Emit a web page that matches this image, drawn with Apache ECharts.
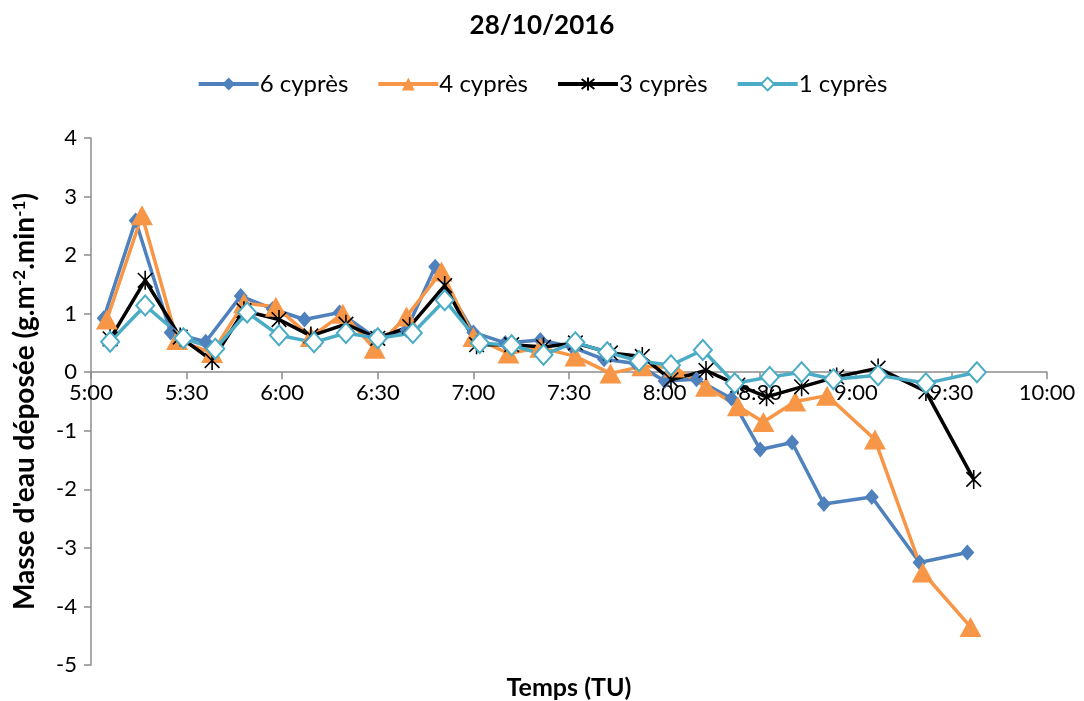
<!DOCTYPE html>
<html><head><meta charset="utf-8">
<script src="https://cdn.jsdelivr.net/npm/echarts@6/dist/echarts.min.js"></script>
<style>html,body{margin:0;padding:0;background:#fff}#c{width:1084px;height:701px}</style>
</head><body><div id="c"></div>
<script>
// times in minutes since midnight
const seriesNames = ['6 cyprès', '4 cyprès', '3 cyprès', '1 cyprès'];
const t6 = [304, 314, 325, 336, 347, 357, 367, 378, 389, 399, 408, 420, 430, 441, 451, 461, 471, 480, 490, 501, 510, 520, 530, 545, 560, 575];
const v6 = [0.92, 2.59, 0.68, 0.52, 1.30, 1.08, 0.90, 1.02, 0.60, 0.72, 1.80, 0.68, 0.50, 0.55, 0.43, 0.22, 0.15, -0.15, -0.12, -0.45, -1.32, -1.20, -2.25, -2.13, -3.25, -3.08];
const t4 = [305, 316, 327, 338, 348, 358, 369, 379, 389, 399, 410, 420, 431, 441, 452, 463, 473, 483, 493, 503, 511, 521, 531, 546, 561, 576];
const v4 = [0.90, 2.68, 0.55, 0.33, 1.18, 1.12, 0.60, 1.00, 0.40, 0.95, 1.72, 0.60, 0.32, 0.42, 0.27, -0.02, 0.10, 0.08, -0.25, -0.58, -0.85, -0.50, -0.40, -1.15, -3.42, -4.35];
const t3 = [306, 317, 328, 338, 348, 359, 369, 380, 390, 400, 411, 421, 432, 442, 452, 463, 473, 482, 493, 503, 512, 523, 534, 547, 562, 577];
const v3 = [0.57, 1.57, 0.60, 0.20, 1.05, 0.90, 0.62, 0.82, 0.58, 0.78, 1.48, 0.47, 0.47, 0.43, 0.50, 0.33, 0.27, -0.13, 0.03, -0.22, -0.42, -0.25, -0.08, 0.07, -0.33, -1.83];
const t1 = [306, 317, 329, 339, 349, 359, 370, 380, 390, 401, 411, 422, 432, 442, 452, 462, 472, 482, 492, 502, 513, 523, 533, 547, 562, 578];
const v1 = [0.52, 1.14, 0.58, 0.40, 1.02, 0.63, 0.51, 0.67, 0.58, 0.67, 1.23, 0.50, 0.46, 0.30, 0.51, 0.34, 0.19, 0.12, 0.38, -0.19, -0.08, 0.00, -0.12, -0.05, -0.19, 0.00];
const xMin = 300, xMax = 600, xStep = 30;
const yMin = -5, yMax = 4, yStep = 1;

const FONT = 'Lato';
const GRID = { left: 91, top: 138, width: 956, height: 527 };
const pair = (t, v) => t.map((x, i) => [x, v[i]]);
const fmtTime = m => Math.floor(m / 60) + ':' + String(m % 60).padStart(2, '0');
const star = 'path://M0,0L10,10M10,0L0,10M5,-1.5L5,11.5';
// place the x axis line on y = 0 (offset from the grid bottom)
const zeroOffset = -GRID.height * (0 - yMin) / (yMax - yMin);

const chart = echarts.init(document.getElementById('c'));
chart.setOption({
  animation: false,
  backgroundColor: '#fff',
  textStyle: { fontFamily: FONT },
  title: {
    text: '28/10/2016', left: 'center', top: 8,
    textStyle: { fontFamily: FONT, fontSize: 26, fontWeight: 'bold', color: '#000' }
  },
  legend: {
    top: 67, left: 'center', itemWidth: 60, itemHeight: 16, itemGap: 28,
    lineStyle: { width: 4 },
    textStyle: { fontFamily: FONT, fontSize: 24, color: '#000', padding: [0, 0, 0, -4] },
    data: seriesNames
  },
  grid: Object.assign({ containLabel: false }, GRID),
  xAxis: {
    type: 'value', min: xMin, max: xMax, interval: xStep, position: 'bottom', offset: zeroOffset, z: 0,
    axisLine: { onZero: false, lineStyle: { color: '#8c8c8c', width: 1.5 } },
    axisTick: { show: true, inside: false, length: 7, lineStyle: { color: '#8c8c8c', width: 1.5 } },
    axisLabel: { formatter: v => fmtTime(v), fontFamily: FONT, fontSize: 22, color: '#000', margin: 10 },
    splitLine: { show: false }
  },
  yAxis: {
    type: 'value', min: yMin, max: yMax, interval: yStep,
    axisLine: { show: true, onZero: false, lineStyle: { color: '#8c8c8c', width: 1.5 } },
    axisTick: { show: true, inside: false, length: 7, lineStyle: { color: '#8c8c8c', width: 1.5 } },
    axisLabel: { fontFamily: FONT, fontSize: 22, color: '#000', margin: 14 },
    splitLine: { show: false },
    name: "{a|Masse d'eau déposée (g.m}{s|-2}{a|.min}{s|-1}{a|)}",
    nameLocation: 'middle', nameGap: 52, nameRotate: 90,
    nameTextStyle: {
      rich: {
        a: { fontFamily: FONT, fontSize: 28, fontWeight: 'bold', color: '#000' },
        s: { fontFamily: FONT, fontSize: 17, fontWeight: 'bold', color: '#000', verticalAlign: 'top', padding: [0, 0, 11, 0] }
      }
    }
  },
  graphic: [{
    type: 'text', x: GRID.left + GRID.width / 2, y: 688,
    style: { text: 'Temps (TU)', font: 'bold 25px ' + FONT, fill: '#000', align: 'center', verticalAlign: 'middle' }
  }],
  series: [
    { name: seriesNames[0], type: 'line', data: pair(t6, v6), symbol: 'diamond', symbolSize: [14, 16], z: 3,
      lineStyle: { color: '#4F81BD', width: 3.5 }, itemStyle: { color: '#4F81BD' } },
    { name: seriesNames[1], type: 'line', data: pair(t4, v4), symbol: 'triangle', symbolSize: [22, 20], z: 3,
      lineStyle: { color: '#F79646', width: 3.5 }, itemStyle: { color: '#F79646' } },
    { name: seriesNames[2], type: 'line', data: pair(t3, v3), symbol: star, symbolSize: 19, symbolKeepAspect: true, z: 3,
      lineStyle: { color: '#000', width: 3.5 }, itemStyle: { color: 'none', borderColor: '#000', borderWidth: 1.6 } },
    { name: seriesNames[3], type: 'line', data: pair(t1, v1), symbol: 'diamond', symbolSize: [18, 20], z: 3,
      lineStyle: { color: '#4BACC6', width: 3.5 }, itemStyle: { color: '#fff', borderColor: '#4BACC6', borderWidth: 2 } }
  ]
});
</script></body></html>
